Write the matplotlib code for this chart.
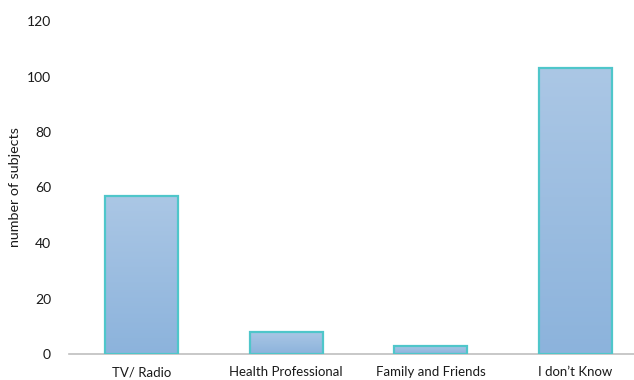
import numpy as np
import matplotlib

matplotlib.use("Agg")
import matplotlib.pyplot as plt
from matplotlib.colors import LinearSegmentedColormap

categories = ["TV/ Radio", "Health Professional", "Family and Friends", "I don\u2019t Know"]
subjects = [57, 8, 3, 103]
y_ticks = [0, 20, 40, 60, 80, 100, 120]

plt.rcParams["font.family"] = ["Lato", "DejaVu Sans"]

fig = plt.figure(figsize=(6.34, 3.80), dpi=100)
ax = fig.add_axes([69 / 634, 26 / 380, (634 - 69) / 634, (354 - 21) / 380])

x = np.arange(len(categories))
bars = ax.bar(x, subjects, width=0.505, facecolor="none",
              edgecolor="#4FC6CA", linewidth=1.6, zorder=3)

# vertical gradient fill, clipped to each bar
grad = LinearSegmentedColormap.from_list("g", ["#8CB3DC", "#ABC7E5"])
for b in bars:
    x0, y0 = b.get_x(), b.get_y()
    w, h = b.get_width(), b.get_height()
    im = ax.imshow(np.linspace(0, 1, 256).reshape(-1, 1), cmap=grad,
                   origin="lower", aspect="auto",
                   extent=[x0, x0 + w, y0, y0 + h], zorder=2)
    im.set_clip_path(b)

ax.set_xlim(-0.502, 3.408)
ax.set_ylim(0, 120)
ax.set_yticks(y_ticks)
ax.set_xticks(x)
ax.set_xticklabels(categories, fontsize=9.5, color="#1a1a1a")
ax.tick_params(axis="y", labelsize=10, colors="#1a1a1a", length=0, pad=13)
ax.tick_params(axis="x", length=0, pad=9)
ax.set_ylabel("number of subjects", fontsize=10.3, color="#1a1a1a", labelpad=4)

for s in ["top", "right", "left"]:
    ax.spines[s].set_visible(False)
ax.spines["bottom"].set_color("#BFBFBF")
ax.spines["bottom"].set_linewidth(1.2)

fig.savefig("out.png", dpi=100)
